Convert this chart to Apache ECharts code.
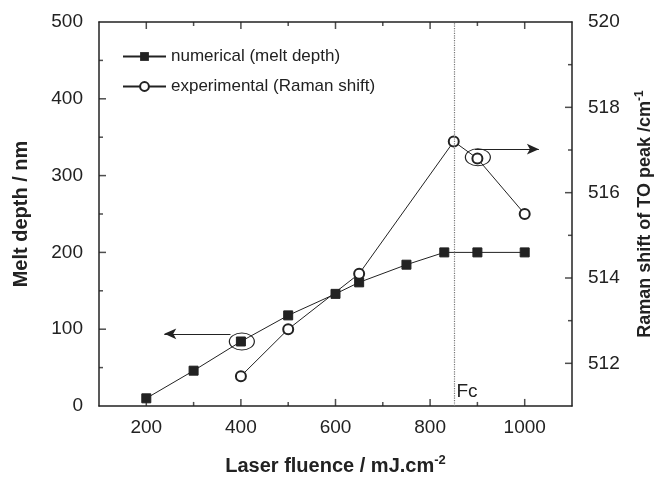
<!DOCTYPE html>
<html>
<head>
<meta charset="utf-8">
<script src="https://cdn.jsdelivr.net/npm/echarts@6/dist/echarts.min.js"></script>
<style>
  html, body { margin: 0; padding: 0; background: #fff; }
  #chart { width: 663px; height: 477px; }
</style>
</head>
<body>
<div id="chart"></div>
<script>
// data
var fluenceNum = [200, 300, 400, 500, 600, 650, 750, 830, 900, 1000];
var meltDepth = [10, 46, 84, 118, 146, 161, 184, 200, 200, 200];
var fluenceExp = [400, 500, 650, 850, 900, 1000];
var ramanShift = [511.7, 512.8, 514.1, 517.2, 516.8, 515.5];
var fcValue = 850;

// tick positions (major = labelled, minor = short)
var xLabels = [200, 400, 600, 800, 1000];
var xMinorTicks = [300, 500, 700, 900];
var yMajorTicks = [100, 200, 300, 400];
var yMinorTicks = [50, 150, 250, 350, 450];
var rLabels = [512, 514, 516, 518, 520];
var rMajorTicks = [512, 514, 516, 518];
var rMinorTicks = [513, 515, 517, 519];

var ink = '#222';
var font = 'Liberation Sans, Arial, sans-serif';

var chart = echarts.init(document.getElementById('chart'));

function zip(xs, ys) {
    var out = [];
    for (var i = 0; i < xs.length; i++) out.push([xs[i], ys[i]]);
    return out;
}

// small inward tick marks, placed through the axes' own scales
function tickSeries(points, yIndex, size, offset) {
    return {
        type: 'scatter', xAxisIndex: 0, yAxisIndex: yIndex, data: points,
        symbol: 'rect', symbolSize: size, symbolOffset: offset,
        itemStyle: { color: ink }, silent: true, clip: false, z: 5
    };
}
function atX(vals, y) { return vals.map(function (v) { return [v, y]; }); }
function atY(vals, x) { return vals.map(function (v) { return [x, v]; }); }

var option = {
    animation: false,
    grid: { left: 99, right: 91, top: 22, bottom: 71, containLabel: false, outerBoundsMode: 'none' },
    legend: {
        orient: 'vertical', left: 117, top: 43, itemWidth: 43, itemHeight: 11, itemGap: 13,
        textStyle: { fontSize: 17, color: ink, fontFamily: font },
        data: ['numerical (melt depth)', 'experimental (Raman shift)']
    },
    xAxis: [
        {
            type: 'value', position: 'bottom', min: 100, max: 1100, interval: 100,
            axisLine: { show: true, onZero: false, lineStyle: { color: ink, width: 1.5 } },
            axisTick: { show: false },
            axisLabel: { customValues: xLabels, formatter: function (v) { return String(v); },
                color: ink, fontSize: 19, fontFamily: font, margin: 12 },
            splitLine: { show: false },
            name: '{a|Laser fluence / mJ.cm}{s|-2}', nameLocation: 'middle', nameGap: 48,
            nameTextStyle: {
                rich: {
                    a: { fontSize: 20, fontWeight: 'bold', color: ink, fontFamily: font },
                    s: { fontSize: 13, fontWeight: 'bold', color: ink, fontFamily: font, padding: [0, 0, 12, 0] }
                }
            }
        },
        {
            type: 'value', position: 'top', min: 100, max: 1100,
            axisLine: { show: true, onZero: false, lineStyle: { color: ink, width: 1.5 } },
            axisTick: { show: false }, axisLabel: { show: false }, splitLine: { show: false }
        }
    ],
    yAxis: [
        {
            type: 'value', position: 'left', min: 0, max: 500, interval: 100,
            axisLine: { show: true, onZero: false, lineStyle: { color: ink, width: 1.5 } },
            axisTick: { show: false },
            axisLabel: { color: ink, fontSize: 19, fontFamily: font, margin: 16 },
            splitLine: { show: false },
            name: 'Melt depth / nm', nameLocation: 'middle', nameGap: 68, nameRotate: 90,
            nameTextStyle: { fontSize: 20, fontWeight: 'bold', color: ink, fontFamily: font }
        },
        {
            type: 'value', position: 'right', min: 511, max: 520, interval: 1,
            axisLine: { show: true, onZero: false, lineStyle: { color: ink, width: 1.5 } },
            axisTick: { show: false },
            axisLabel: { customValues: rLabels, color: ink, fontSize: 19, fontFamily: font, margin: 16 },
            splitLine: { show: false },
            name: '{a|Raman shift of TO peak /cm}{s|-1}', nameLocation: 'middle', nameGap: 62, nameRotate: 90,
            nameTextStyle: {
                rich: {
                    a: { fontSize: 18, fontWeight: 'bold', color: ink, fontFamily: font },
                    s: { fontSize: 12, fontWeight: 'bold', color: ink, fontFamily: font, padding: [0, 0, 10, 0] }
                }
            }
        }
    ],
    series: [
        {
            name: 'numerical (melt depth)', type: 'line', xAxisIndex: 0, yAxisIndex: 0,
            data: zip(fluenceNum, meltDepth),
            symbol: 'rect', symbolSize: 9,
            lineStyle: { color: ink, width: 1 },
            itemStyle: { color: ink, borderColor: ink },
            markLine: {
                silent: true, symbol: 'none',
                label: { show: false },
                lineStyle: { color: '#777', type: 'dotted', width: 1.2 },
                data: [{ xAxis: fcValue }]
            },
            markPoint: {
                silent: true,
                data: [
                    { coord: [402, 84], symbol: 'circle', symbolSize: [25, 17],
                      itemStyle: { color: 'rgba(0,0,0,0)', borderColor: ink, borderWidth: 1 }, label: { show: false } },
                    { coord: [878, 18], symbol: 'circle', symbolSize: 1,
                      itemStyle: { color: 'rgba(0,0,0,0)' },
                      label: { show: true, formatter: 'Fc', position: 'inside', color: ink, fontSize: 19, fontFamily: font } }
                ]
            }
        },
        {
            name: 'experimental (Raman shift)', type: 'line', xAxisIndex: 0, yAxisIndex: 1,
            data: zip(fluenceExp, ramanShift),
            symbol: 'emptyCircle', symbolSize: 10,
            lineStyle: { color: ink, width: 1 },
            itemStyle: { color: ink, borderColor: ink, borderWidth: 1 },
            markPoint: {
                silent: true,
                data: [
                    { coord: [901, 516.83], symbol: 'circle', symbolSize: [25, 17],
                      itemStyle: { color: 'rgba(0,0,0,0)', borderColor: ink, borderWidth: 1 }, label: { show: false } }
                ]
            },
            markLine: {
                silent: true, symbol: ['none', 'arrow'], symbolSize: [8, 12],
                label: { show: false },
                lineStyle: { color: ink, type: 'solid', width: 1 },
                data: [
                    [{ coord: [895, 517.02] }, { coord: [1030, 517.02] }]
                ]
            }
        },
        {
            // left-pointing arrow for the melt-depth curve
            name: 'arrowLeft', type: 'line', xAxisIndex: 0, yAxisIndex: 0, data: [],
            markLine: {
                silent: true, symbol: ['none', 'arrow'], symbolSize: [8, 12],
                label: { show: false },
                lineStyle: { color: ink, type: 'solid', width: 1 },
                data: [
                    [{ coord: [378, 94] }, { coord: [238, 94] }]
                ]
            }
        },
        // axis ticks (bottom row sits a hair above 0 so it is not dropped at the grid edge)
        tickSeries(atX(xLabels, 0.1), 0, [1.5, 7], [0, -3.5]),
        tickSeries(atX(xMinorTicks, 0.1), 0, [1.5, 4], [0, -2]),
        tickSeries(atX(xLabels, 500), 0, [1.5, 7], [0, 3.5]),
        tickSeries(atX(xMinorTicks, 500), 0, [1.5, 4], [0, 2]),
        tickSeries(atY(yMajorTicks, 100), 0, [7, 1.5], [3.5, 0]),
        tickSeries(atY(yMinorTicks, 100), 0, [4, 1.5], [2, 0]),
        tickSeries(atY(rMajorTicks, 1100), 1, [7, 1.5], [-3.5, 0]),
        tickSeries(atY(rMinorTicks, 1100), 1, [4, 1.5], [-2, 0])
    ]
};

chart.setOption(option);
</script>
</body>
</html>
